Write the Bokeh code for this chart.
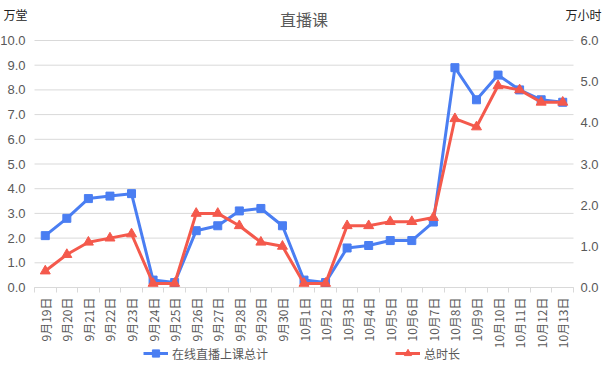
import numpy as np
from bokeh.plotting import figure
from bokeh.models import (Range1d, LinearAxis, FixedTicker, Legend, LegendItem, Label,
                          NumeralTickFormatter, CustomJSTickFormatter)
from bokeh.embed import file_html
from bokeh.resources import INLINE

dates = ["9月19日", "9月20日", "9月21日", "9月22日", "9月23日", "9月24日", "9月25日",
         "9月26日", "9月27日", "9月28日", "9月29日", "9月30日", "10月1日", "10月2日",
         "10月3日", "10月4日", "10月5日", "10月6日", "10月7日", "10月8日", "10月9日",
         "10月10日", "10月11日", "10月12日", "10月13日"]
# 在线直播上课总计 (万堂, left axis)
sessions = [2.1, 2.8, 3.6, 3.7, 3.8, 0.3, 0.2, 2.3, 2.5, 3.1, 3.2, 2.5, 0.3, 0.2,
            1.6, 1.7, 1.9, 1.9, 2.65, 8.9, 7.6, 8.6, 8.0, 7.6, 7.5]
# 总时长 (万小时, right axis)
hours = [0.4, 0.8, 1.1, 1.2, 1.3, 0.1, 0.1, 1.8, 1.8, 1.5, 1.1, 1.0, 0.1, 0.1,
         1.5, 1.5, 1.6, 1.6, 1.7, 4.1, 3.9, 4.9, 4.8, 4.5, 4.5]
left_ticks = [0, 1, 2, 3, 4, 5, 6, 7, 8, 9, 10]
right_ticks = [0, 1, 2, 3, 4, 5, 6]
LEFT_MAX = 10
RIGHT_MAX = 6

BLUE = "#4A7EF2"
RED = "#F4594C"
GRAY = "#595959"
GRID = "#d9d9d9"
NUM_FONT = "Liberation Sans Narrow, Liberation Sans, Arial, sans-serif"
CJK_FONT = "Noto Sans CJK SC"

W, H = 602, 370
# plot-area placement inside the figure (pixels)
PL, PR, PT, PB = 34, 573, 40, 287

n = len(dates)
x = np.arange(n) + 0.5

xpx = (PR - PL) / n
ypx = (PB - PT) / LEFT_MAX
rpx = (PB - PT) / RIGHT_MAX
x_range = Range1d(-PL / xpx, n + (W - PR) / xpx)
y_range = Range1d(-(H - PB) / ypx, LEFT_MAX + PT / ypx)
r_range = Range1d(-(H - PB) / rpx, RIGHT_MAX + PT / rpx)

p = figure(width=W, height=H, output_backend="svg", toolbar_location=None,
           x_range=x_range, y_range=y_range,
           min_border=0, min_border_left=0, min_border_right=0,
           min_border_top=0, min_border_bottom=0)
p.extra_y_ranges = {"hours": r_range}
p.outline_line_color = None
p.background_fill_color = "white"
p.xgrid.visible = False
p.ygrid.visible = False

# horizontal gridlines at the left-axis ticks
p.segment(x0=[0] * len(left_ticks), x1=[n] * len(left_ticks), y0=left_ticks, y1=left_ticks,
          line_color=GRID, line_width=1)

# x axis
xa = p.xaxis[0]
xa.fixed_location = 0
xa.bounds = (0, n)
xa.ticker = FixedTicker(ticks=list(x), minor_ticks=list(range(n + 1)))
xa.formatter = CustomJSTickFormatter(args=dict(labels=dates),
                                     code="return labels[Math.floor(tick)];")
xa.major_label_orientation = np.pi / 2
xa.major_tick_out = 0
xa.major_tick_in = 0
xa.minor_tick_out = 5
xa.minor_tick_in = 0
xa.minor_tick_line_color = GRID
xa.axis_line_color = GRID
xa.major_label_standoff = 5
xa.major_label_text_font = CJK_FONT
xa.major_label_text_font_size = "12px"
xa.major_label_text_color = GRAY

# left axis
ya = p.yaxis[0]
ya.fixed_location = 0
ya.bounds = (0, LEFT_MAX)
ya.ticker = FixedTicker(ticks=left_ticks)
ya.formatter = NumeralTickFormatter(format="0.0")
ya.axis_line_color = None
ya.major_tick_line_color = None
ya.minor_tick_line_color = None
ya.major_tick_out = 0
ya.major_label_standoff = 9
ya.major_label_text_font = NUM_FONT
ya.major_label_text_font_size = "13px"
ya.major_label_text_color = GRAY

# right axis
ra = LinearAxis(y_range_name="hours", ticker=FixedTicker(ticks=right_ticks),
                formatter=NumeralTickFormatter(format="0.0"))
ra.fixed_location = n
ra.bounds = (0, RIGHT_MAX)
ra.axis_line_color = None
ra.major_tick_line_color = None
ra.minor_tick_line_color = None
ra.major_tick_out = 0
ra.major_label_standoff = 7
ra.major_label_text_font = NUM_FONT
ra.major_label_text_font_size = "13px"
ra.major_label_text_color = GRAY
p.add_layout(ra, "right")

l1 = p.line(x, sessions, color=BLUE, line_width=3)
s1 = p.scatter(x, sessions, marker="square", size=8, color=BLUE)
l2 = p.line(x, hours, y_range_name="hours", color=RED, line_width=3)
s2 = p.scatter(x, hours, y_range_name="hours", marker="triangle", size=10, color=RED)


def make_legend(label, rends, loc):
    lg = Legend(items=[LegendItem(label=label, renderers=rends)], location=loc,
                orientation="horizontal", padding=0, margin=0, spacing=0,
                border_line_color=None, background_fill_alpha=0,
                glyph_width=25, glyph_height=18, label_standoff=4,
                label_text_font=CJK_FONT, label_text_font_size="12px",
                label_text_color=GRAY)
    p.add_layout(lg, "center")


make_legend("在线直播上课总计", [l1, s1], (143, 8))
make_legend("总时长", [l2, s2], (395, 8))

p.add_layout(Label(x=n / 2, y=LEFT_MAX + 22 / ypx, text="直播课", text_align="center",
                   text_baseline="middle", text_font=CJK_FONT,
                   text_font_size="16px", text_color=GRAY))
p.add_layout(Label(x=-19 / xpx, y=LEFT_MAX + 26 / ypx, text="万堂", text_align="center",
                   text_baseline="middle", text_font=CJK_FONT,
                   text_font_size="12px", text_color="#222222"))
p.add_layout(Label(x=n + 10 / xpx, y=LEFT_MAX + 26 / ypx, text="万小时",
                   text_align="center", text_baseline="middle", text_font=CJK_FONT,
                   text_font_size="12px", text_color="#222222"))

open("out.html", "w").write(file_html(p, INLINE))
